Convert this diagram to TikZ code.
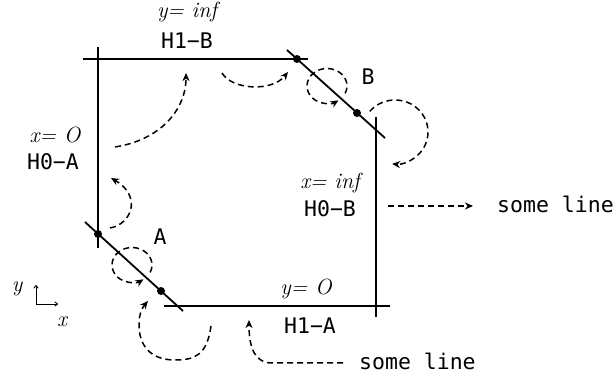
\documentclass[tikz,border=0pt]{standalone}
\usepackage{fontspec}
\newfontfamily\labelmono{DejaVu Sans Mono}
\newfontfamily\labelital{Latin Modern Roman}
\usetikzlibrary{arrows.meta}
\begin{document}
\begin{tikzpicture}[x=1pt,y=1pt,
  wall/.style={line width=1.8pt},
  flow/.style={line width=1.5pt, dash pattern=on 6pt off 4pt,
    -{Stealth[length=8pt,width=7pt,inset=2.5pt]}},
  dotmark/.style={circle, fill=black, inner sep=0pt, minimum size=8pt},
  mono/.style={font=\labelmono\fontsize{21.5}{24}\selectfont, inner sep=0pt},
  mathlbl/.style={font=\labelital\fontsize{22}{24}\selectfont\itshape, inner sep=0pt},
  axis/.style={line width=0.9pt, -{To[length=3.5pt,width=5pt]}},
]
\useasboundingbox (0,0) rectangle (613,380);

% frame lines
\coordinate (TL) at (83,321);  \coordinate (TR) at (308,321);
\coordinate (LT) at (98,333);  \coordinate (LB) at (98,132);
\coordinate (UD1) at (287,330); \coordinate (UD2) at (385,242);
\coordinate (RT) at (376,263); \coordinate (RB) at (376,63);
\coordinate (BL) at (164,74);  \coordinate (BR) at (390,74);
\coordinate (LD1) at (85,158); \coordinate (LD2) at (183,69);

\draw[wall] (TL) -- (TR);
\draw[wall] (LT) -- (LB);
\draw[wall] (UD1) -- (UD2);
\draw[wall] (RT) -- (RB);
\draw[wall] (BL) -- (BR);
\draw[wall] (LD1) -- (LD2);

\node[dotmark] (b1) at (297,321) {};
\node[dotmark] (b2) at (357,267) {};
\node[dotmark] (a1) at (98,146) {};
\node[dotmark] (a2) at (161,89) {};

% dashed flow curves
\coordinate (c1s) at (115,233); \coordinate (c1e) at (186,307);
\draw[flow] (c1s) .. controls (160,240) and (186,270) .. (c1e);

\coordinate (c2s) at (222,307); \coordinate (c2e) at (288,308);
\draw[flow] (c2s) .. controls (232,290) and (272,288) .. (c2e);

\coordinate (bc) at (327,294);
\draw[flow] ([shift={(-25:20 and 17.5)}]bc) arc[start angle=-25,end angle=305,x radius=20,y radius=17.5];

\coordinate (ac) at (132,115);
\draw[flow] ([shift={(-25:20 and 17.5)}]ac) arc[start angle=-25,end angle=305,x radius=20,y radius=17.5];

\coordinate (bbc) at (395,248);
\draw[flow] ([shift={(140:33 and 32)}]bbc) arc[start angle=140,end angle=-95,x radius=33,y radius=32];

\coordinate (c5s) at (110,152); \coordinate (c5e) at (111,202);
\draw[flow] (c5s) .. controls (132,156) and (142,184) .. (c5e);

\coordinate (c6s) at (211,54); \coordinate (c6b) at (175,20); \coordinate (c6l) at (139,55); \coordinate (c6e) at (148,79);
\draw[flow] (c6s) .. controls (207,25) and (195,20) .. (c6b) .. controls (150,20) and (139,35) .. (c6l) .. controls (139,66) and (142,72) .. (c6e);

\coordinate (c7s) at (343,17); \coordinate (c7m) at (272,17); \coordinate (c7e) at (249,60);
\draw[flow] (c7s) -- (c7m) .. controls (256,17) and (249,30) .. (c7e);

\coordinate (c8s) at (388,174); \coordinate (c8e) at (473,174);
\draw[flow] (c8s) -- (c8e);

% labels
\node[mathlbl, anchor=base] (lyinf) at (187,362) {y= inf};
\node[mono, anchor=base] (lh1b) at (187,331) {H1−B};
\node[mathlbl, anchor=base] (lx0) at (55,237) {x= O};
\node[mono, anchor=base] (lh0a) at (53,210) {H0−A};
\node[mathlbl, anchor=base] (lxinf) at (330,191) {x= inf};
\node[mono, anchor=base] (lh0b) at (330,163) {H0−B};
\node[mono, anchor=base] (lB) at (368,295) {B};
\node[mono, anchor=base] (lA) at (160,135) {A};
\node[mathlbl, anchor=base] (ly0) at (306,85) {y= O};
\node[mono, anchor=base] (lh1a) at (310,46) {H1−A};
\node[mono, anchor=base west] (ls1) at (497,167) {some line};
\node[mono, anchor=base west] (ls2) at (359,10) {some line};

% axes
\coordinate (ax0) at (36,76); \coordinate (axy) at (36,95); \coordinate (axx) at (58,76);
\draw[axis] (ax0) -- (axy);
\draw[axis] (ax0) -- (axx);
\node[mathlbl, anchor=base] (laxy) at (17,88) {y};
\node[mathlbl, anchor=base] (laxx) at (62,53) {x};
\end{tikzpicture}
\end{document}
